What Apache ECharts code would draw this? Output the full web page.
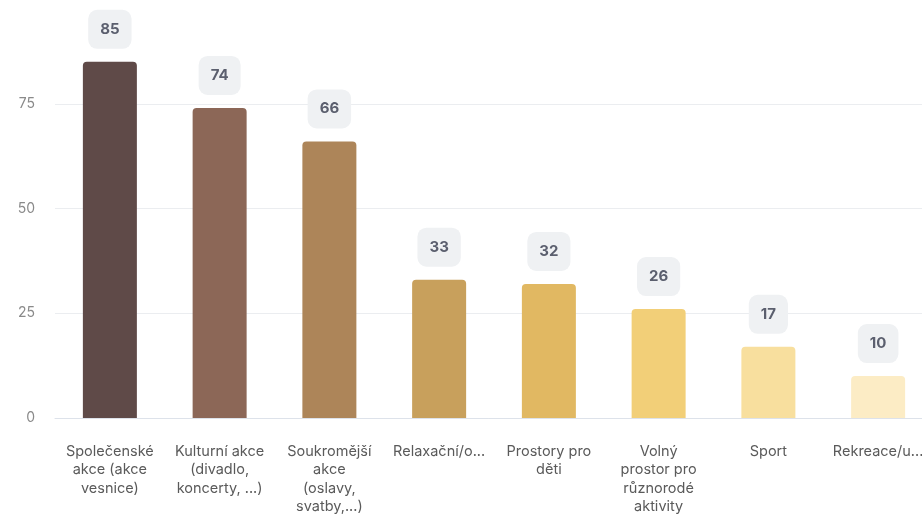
<!DOCTYPE html>
<html><head><meta charset="utf-8">
<script src="https://cdn.jsdelivr.net/npm/echarts@6/dist/echarts.min.js"></script>
<style>html,body{margin:0;padding:0;background:#fff}#c{width:922px;height:523px}</style>
</head><body><div id="c"></div>
<script>
const categories = ["Společenské\nakce (akce\nvesnice)", "Kulturní akce\n(divadlo,\nkoncerty, ...)", "Soukromější\nakce\n(oslavy,\nsvatby,...)", "Relaxační/o...", "Prostory pro\nděti", "Volný\nprostor pro\nrůznorodé\naktivity", "Sport", "Rekreace/u..."];
const values = [85, 74, 66, 33, 32, 26, 17, 10];
const barColors = ["#5f4a48", "#8c6757", "#ad8559", "#c8a05c", "#e1b862", "#f2cf78", "#f8df9e", "#fcecc5"];
const yTicks = [0, 25, 50, 75];

const chart = echarts.init(document.getElementById('c'));
chart.setOption({
  animation: false,
  textStyle: { fontFamily: 'Inter' },
  grid: { left: 55, right: -11, top: -1, bottom: 105, containLabel: false, outerBoundsMode: 'none' },
  xAxis: {
    type: 'category', data: categories,
    axisTick: { show: false },
    axisLine: { lineStyle: { color: '#dde2ea', width: 1 } },
    axisLabel: { interval: 0, color: '#5a5a5a', fontSize: 14.5, lineHeight: 18.5, margin: 24, fontFamily: 'Inter', hideOverlap: false }
  },
  yAxis: {
    type: 'value', min: 0, max: 100, interval: 25,
    axisLine: { show: false }, axisTick: { show: false },
    splitLine: { lineStyle: { color: '#ebedf0' } },
    axisLabel: { color: '#8a8a8a', fontSize: 14, margin: 20, fontFamily: 'Inter',
      formatter: v => yTicks.includes(v) ? String(v) : '' }
  },
  series: [{
    type: 'bar', barWidth: 54,
    data: values.map((v, i) => ({ value: v, itemStyle: { color: barColors[i] } })),
    itemStyle: { borderRadius: [4, 4, 0, 0] },
    label: {
      show: true, position: 'top', distance: 13,
      color: '#5b5f6e', fontSize: 15, fontWeight: 'bold', fontFamily: 'Inter',
      backgroundColor: '#eff1f3', borderRadius: 9, padding: [12, 12, 12, 12]
    }
  }]
});
</script></body></html>
